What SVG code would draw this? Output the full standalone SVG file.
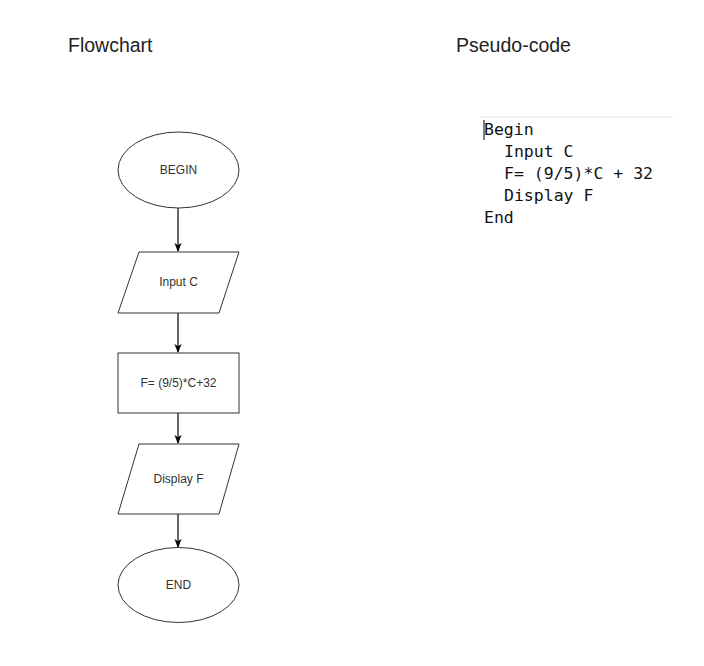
<svg xmlns="http://www.w3.org/2000/svg" width="704" height="666" viewBox="0 0 704 666">
<style>
.shape{fill:#fff;stroke:#333;stroke-width:1}
.lbl{font-family:"Liberation Sans",Arial,sans-serif;font-size:12px;fill:#333;text-anchor:middle}
.title{font-family:"Liberation Sans",Arial,sans-serif;font-size:19.5px;fill:#222}
.code{font-family:"DejaVu Sans Mono","Liberation Mono",monospace;font-size:16.5px;fill:#111}
.conn{stroke:#000;stroke-width:1.2;fill:none;marker-end:url(#ah)}
</style>
<defs>
<marker id="ah" viewBox="0 0 10 10" refX="9" refY="5" markerWidth="9" markerHeight="9" markerUnits="userSpaceOnUse" orient="auto">
<path d="M0,1 L10,5 L0,9 L2.5,5 Z" fill="#000"/>
</marker>
</defs>
<rect width="704" height="666" fill="#fff"/>
<text class="title" x="68" y="52">Flowchart</text>
<text class="title" x="456" y="52">Pseudo-code</text>
<g id="connectors">
<line class="conn" x1="178" y1="208" x2="178" y2="251"/>
<line class="conn" x1="178" y1="313" x2="178" y2="352"/>
<line class="conn" x1="178" y1="413" x2="178" y2="443"/>
<line class="conn" x1="178" y1="514" x2="178" y2="547"/>
</g>
<g id="begin">
<ellipse class="shape" cx="178.5" cy="170" rx="60.5" ry="38"/>
<text class="lbl" x="178.5" y="174">BEGIN</text>
</g>
<g id="input">
<polygon class="shape" points="139,252 239,252 219,313 118,313"/>
<text class="lbl" x="178.5" y="286">Input C</text>
</g>
<g id="process">
<rect class="shape" x="118" y="353" width="121" height="60"/>
<text class="lbl" x="178.5" y="387">F= (9/5)*C+32</text>
</g>
<g id="display">
<polygon class="shape" points="139,444 239,444 219,514 118,514"/>
<text class="lbl" x="178.5" y="483">Display F</text>
</g>
<g id="end">
<ellipse class="shape" cx="178.5" cy="585" rx="60.5" ry="37.5"/>
<text class="lbl" x="178.5" y="589">END</text>
</g>
<g id="pseudocode">
<line x1="480" y1="117" x2="673" y2="117" stroke="#eee" stroke-width="1.5"/>
<line x1="484" y1="120" x2="484" y2="140" stroke="#000" stroke-width="1"/>
<text class="code" x="484" y="135">Begin</text>
<text class="code" x="504" y="157">Input C</text>
<text class="code" x="504" y="179">F= (9/5)*C + 32</text>
<text class="code" x="504" y="201">Display F</text>
<text class="code" x="484" y="223">End</text>
</g>
</svg>
